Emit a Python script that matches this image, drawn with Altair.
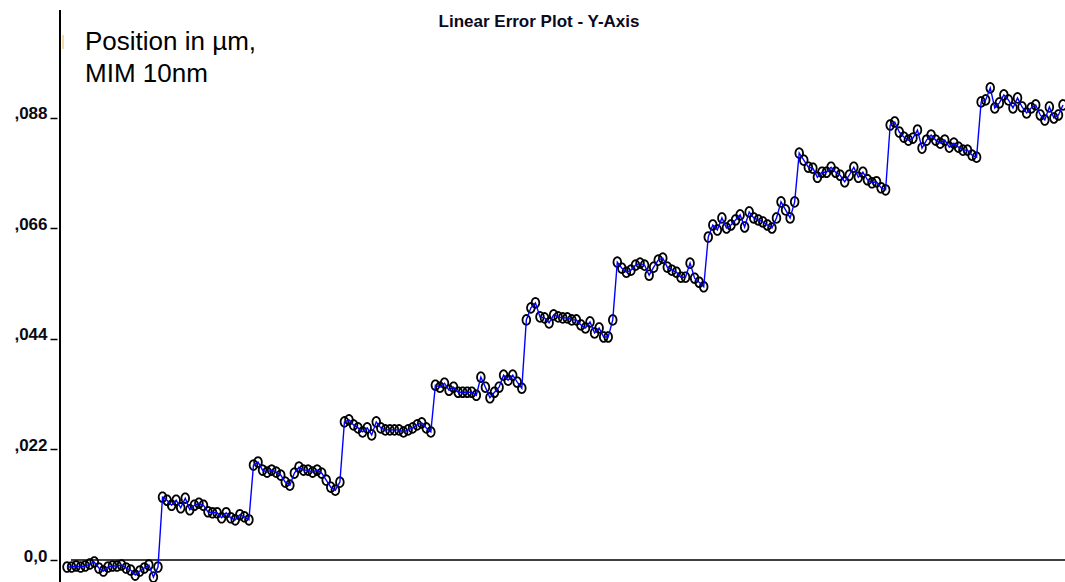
import math

import altair as alt
import pandas as pd

TITLE = "Linear Error Plot - Y-Axis"
LEGEND_TEXT = "Position in µm,\nMIM 10nm"
TICK_VALUES = [0.0, 0.022, 0.044, 0.066, 0.088]
TICK_LABELS = ["0,0", ",022", ",044", ",066", ",088"]

# Measured linear error (µm) for each of the eleven 10 nm position steps
STEP_00 = [-0.0014, -0.0014, -0.0012, -0.0014, -0.0012, -0.0008, -0.0004, -0.0016, -0.0022, -0.0014, -0.0012,
           -0.0012, -0.0010, -0.0016, -0.0020, -0.0030, -0.0022, -0.0016, -0.0010, -0.0034, -0.0014]
STEP_01 = [0.0125, 0.0119, 0.0109, 0.0119, 0.0104, 0.0123, 0.0100, 0.0109, 0.0113, 0.0109,
           0.0096, 0.0094, 0.0094, 0.0084, 0.0094, 0.0084, 0.0080, 0.0090, 0.0086, 0.0080]
STEP_02 = [0.0189, 0.0195, 0.0179, 0.0175, 0.0179, 0.0175, 0.0169, 0.0155, 0.0149, 0.0173,
           0.0185, 0.0179, 0.0179, 0.0175, 0.0179, 0.0173, 0.0159, 0.0145, 0.0139, 0.0155]
STEP_03 = [0.0275, 0.0279, 0.0269, 0.0263, 0.0255, 0.0263, 0.0249, 0.0275, 0.0263, 0.0259,
           0.0259, 0.0259, 0.0259, 0.0255, 0.0259, 0.0263, 0.0269, 0.0273, 0.0263, 0.0255]
STEP_04 = [0.0348, 0.0344, 0.0352, 0.0338, 0.0344, 0.0334, 0.0334, 0.0334, 0.0334, 0.0328,
           0.0364, 0.0344, 0.0323, 0.0334, 0.0344, 0.0368, 0.0358, 0.0368, 0.0354, 0.0342]
STEP_05 = [0.0478, 0.0502, 0.0512, 0.0484, 0.0482, 0.0472, 0.0488, 0.0484, 0.0482, 0.0482,
           0.0478, 0.0478, 0.0468, 0.0462, 0.0474, 0.0452, 0.0462, 0.0444, 0.0444, 0.0478]
STEP_06 = [0.0593, 0.0581, 0.0573, 0.0577, 0.0587, 0.0591, 0.0587, 0.0567, 0.0583, 0.0597,
           0.0601, 0.0583, 0.0577, 0.0573, 0.0563, 0.0563, 0.0591, 0.0561, 0.0553, 0.0544]
STEP_07 = [0.0643, 0.0667, 0.0657, 0.0681, 0.0661, 0.0667, 0.0677, 0.0687, 0.0663, 0.0693,
           0.0681, 0.0677, 0.0673, 0.0667, 0.0661, 0.0681, 0.0713, 0.0697, 0.0681, 0.0713]
STEP_08 = [0.0810, 0.0796, 0.0782, 0.0780, 0.0762, 0.0772, 0.0772, 0.0782, 0.0772, 0.0766,
           0.0753, 0.0766, 0.0782, 0.0762, 0.0772, 0.0757, 0.0751, 0.0753, 0.0741, 0.0737]
STEP_09 = [0.0866, 0.0872, 0.0852, 0.0842, 0.0836, 0.0840, 0.0856, 0.0820, 0.0836, 0.0846,
           0.0836, 0.0830, 0.0836, 0.0822, 0.0830, 0.0822, 0.0816, 0.0816, 0.0806, 0.0802]
STEP_10 = [0.0912, 0.0916, 0.0940, 0.0900, 0.0910, 0.0926, 0.0916, 0.0900, 0.0920, 0.0902,
           0.0890, 0.0900, 0.0906, 0.0886, 0.0876, 0.0902, 0.0880, 0.0886, 0.0906]

STEPS = [STEP_00, STEP_01, STEP_02, STEP_03, STEP_04, STEP_05,
         STEP_06, STEP_07, STEP_08, STEP_09, STEP_10]

errors = [v for step in STEPS for v in step]
samples = pd.DataFrame({"sample": list(range(len(errors))), "error": errors})

# Tall open ellipse used as the sample marker (unit box, scaled by sqrt(size)/2)
_pts = [(0.78 * math.sin(2 * math.pi * k / 28), -math.cos(2 * math.pi * k / 28)) for k in range(28)]
ELLIPSE = "M" + " L".join(f"{x:.3f},{y:.3f}" for x, y in _pts) + " Z"

W, H = 1005, 572
one_row = pd.DataFrame({"level": [0.0]})

label_expr = "".join(
    f"abs(datum.value - {v}) < 1e-6 ? '{lab}' : " for v, lab in zip(TICK_VALUES, TICK_LABELS)
) + "''"

x_scale = alt.Scale(domain=[-1.54, 219.44], nice=False, zero=False)
y_scale = alt.Scale(domain=[-0.00438, 0.1095], nice=False, zero=False)

x_enc = alt.X("sample:Q", scale=x_scale, axis=None)
y_enc = alt.Y(
    "error:Q",
    scale=y_scale,
    title=None,
    axis=alt.Axis(
        values=TICK_VALUES,
        labelExpr=label_expr,
        orient="left",
        offset=3,
        domain=False,
        grid=False,
        ticks=True,
        tickSize=7,
        tickWidth=1.5,
        tickColor="#000000",
        labelFont="Liberation Sans",
        labelFontWeight="bold",
        labelFontSize=17,
        labelColor="#0a0a14",
        labelPadding=3,
        labelBaseline="alphabetic",
        labelOffset=1,
    ),
)

base = alt.Chart(samples)

points = base.mark_point(
    shape=ELLIPSE, filled=False, size=96, color="#000000", strokeWidth=1.8, opacity=1
).encode(x=x_enc, y=y_enc)

trace = base.mark_line(color="#0000ff", strokeWidth=1.4).encode(
    x=x_enc, y=alt.Y("error:Q", scale=y_scale), order="sample:Q"
)

zero_line = alt.Chart(one_row).mark_rule(color="#000000", strokeWidth=1.3).encode(
    y=alt.Y("level:Q", scale=y_scale), x=alt.value(11), x2=alt.value(W)
)

y_axis_line = alt.Chart(one_row).mark_rule(color="#000000", strokeWidth=2).encode(
    x=alt.value(0), y=alt.value(0), y2=alt.value(H)
)

legend_swatch = alt.Chart(one_row).mark_rule(color="#f2cf8c", strokeWidth=1.5).encode(
    x=alt.value(3), y=alt.value(25), y2=alt.value(39)
)

legend_text = alt.Chart(pd.DataFrame({"txt": [LEGEND_TEXT]})).mark_text(
    align="left", baseline="alphabetic", font="Liberation Sans", fontSize=26,
    lineHeight=32, lineBreak="\n", color="#000000"
).encode(x=alt.value(25), y=alt.value(40), text="txt:N")

title_text = alt.Chart(pd.DataFrame({"txt": [TITLE]})).mark_text(
    align="center", baseline="alphabetic", font="Liberation Sans", fontSize=17,
    fontWeight="bold", color="#0a0a20"
).encode(x=alt.value(479), y=alt.value(17), text="txt:N")

chart = alt.layer(
    zero_line, y_axis_line, points, trace, legend_swatch, legend_text, title_text
).properties(
    width=W,
    height=H,
    autosize=alt.AutoSizeParams(type="none"),
    padding={"left": 60, "top": 10, "right": 0, "bottom": 0},
    background="#ffffff",
).configure_view(strokeWidth=0)

chart.save("out.html", embed_options={"renderer": "svg", "actions": False})
